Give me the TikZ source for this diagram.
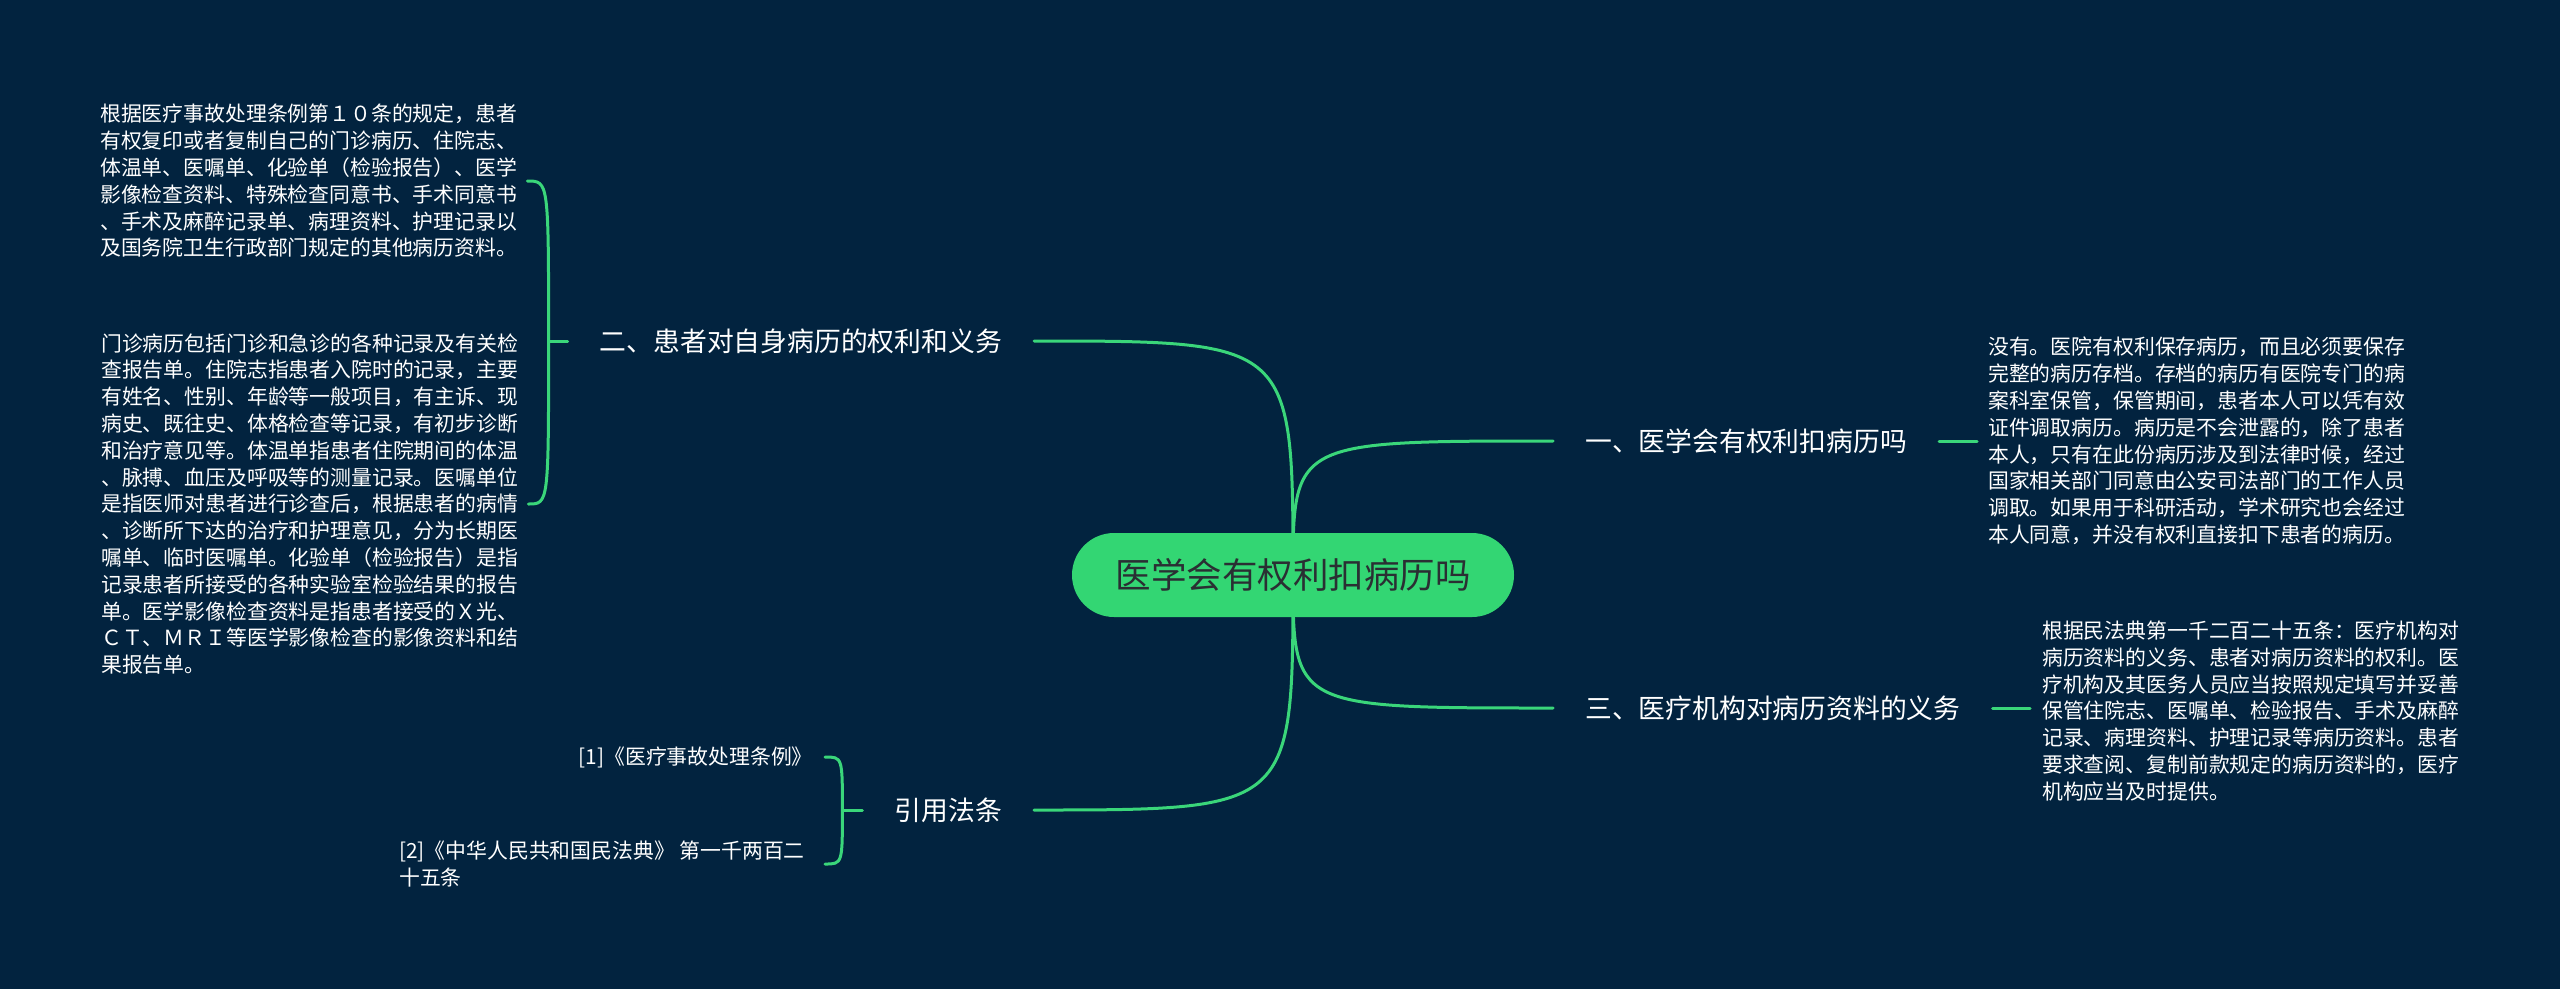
\documentclass[tikz,border=0pt]{standalone}
\usepackage{fontspec}
\setmainfont{Noto Sans CJK SC}
\usetikzlibrary{calc}
\definecolor{bgnavy}{HTML}{02233F}
\definecolor{mmgreen}{HTML}{33D673}
\definecolor{linegreen}{HTML}{3AD67A}
\definecolor{roottext}{HTML}{2A2F33}
\pgfdeclarelayer{back}
\pgfdeclarelayer{edges}
\pgfsetlayers{back,edges,main}
\begin{document}
\begin{tikzpicture}[x=1pt,y=-1pt,
  rootnode/.style={fill=mmgreen,text=roottext,rounded corners=42pt,minimum width=442pt,minimum height=84pt,inner sep=0pt,font=\fontsize{35.5}{40}\selectfont},
  branch/.style={text=white,inner xsep=32pt,inner ysep=0pt,font=\fontsize{26.8}{32}\selectfont},
  leaf/.style={text=white,align=left,inner xsep=10pt,inner ysep=0pt,font=\fontsize{20.85}{26.8}\selectfont},
  edge/.style={draw=linegreen,line width=3pt,line cap=round}]
\begin{pgfonlayer}{back}
\fill[bgnavy] (0,0) rectangle (2560,989);
\end{pgfonlayer}
\useasboundingbox (0,0) rectangle (2560,989);

\node[rootnode] (root) at (1293,575) {医学会有权利扣病历吗};

\node[branch,anchor=west] (b1) at (1553,441) {一、医学会有权利扣病历吗};
\node[branch,anchor=west] (b3) at (1553,708) {三、医疗机构对病历资料的义务};
\node[branch,anchor=east] (b2) at (1034,341) {二、患者对自身病历的权利和义务};
\node[branch,anchor=east] (b4) at (1034,810) {引用法条};

\node[leaf,anchor=west,inner xsep=11pt] (l1) at (1977,441) {没有。医院有权利保存病历，而且必须要保存\\完整的病历存档。存档的病历有医院专门的病\\案科室保管，保管期间，患者本人可以凭有效\\证件调取病历。病历是不会泄露的，除了患者\\本人，只有在此份病历涉及到法律时候，经过\\国家相关部门同意由公安司法部门的工作人员\\调取。如果用于科研活动，学术研究也会经过\\本人同意，并没有权利直接扣下患者的病历。};

\node[leaf,anchor=west,inner xsep=12pt] (l3) at (2030,711) {根据民法典第一千二百二十五条：医疗机构对\\病历资料的义务、患者对病历资料的权利。医\\疗机构及其医务人员应当按照规定填写并妥善\\保管住院志、医嘱单、检验报告、手术及麻醉\\记录、病理资料、护理记录等病历资料。患者\\要求查阅、复制前款规定的病历资料的，医疗\\机构应当及时提供。};

\node[leaf,anchor=west] (l2a) at (90,181) {根据医疗事故处理条例第１０条的规定，患者\\有权复印或者复制自己的门诊病历、住院志、\\体温单、医嘱单、化验单（检验报告）、医学\\影像检查资料、特殊检查同意书、手术同意书\\、手术及麻醉记录单、病理资料、护理记录以\\及国务院卫生行政部门规定的其他病历资料。};

\node[leaf,anchor=west] (l2b) at (91,504) {门诊病历包括门诊和急诊的各种记录及有关检\\查报告单。住院志指患者入院时的记录，主要\\有姓名、性别、年龄等一般项目，有主诉、现\\病史、既往史、体格检查等记录，有初步诊断\\和治疗意见等。体温单指患者住院期间的体温\\、脉搏、血压及呼吸等的测量记录。医嘱单位\\是指医师对患者进行诊查后，根据患者的病情\\、诊断所下达的治疗和护理意见，分为长期医\\嘱单、临时医嘱单。化验单（检验报告）是指\\记录患者所接受的各种实验室检验结果的报告\\单。医学影像检查资料是指患者接受的Ｘ光、\\ＣＴ、ＭＲＩ等医学影像检查的影像资料和结\\果报告单。};

\node[leaf,anchor=east,inner xsep=12pt] (l4a) at (825,757) {[1]《医疗事故处理条例》};
\node[leaf,anchor=east,inner xsep=20pt] (l4b) at (825,864) {[2]《中华人民共和国民法典》 第一千两百二\\十五条};

\begin{pgfonlayer}{edges}
\draw[edge] (root.center) .. controls (root.center |- b1.west) .. (b1.west);
\draw[edge] (root.center) .. controls (root.center |- b3.west) .. (b3.west);
\draw[edge] (root.center) .. controls (root.center |- b2.east) .. (b2.east);
\draw[edge] (root.center) .. controls (root.center |- b4.east) .. (b4.east);
\end{pgfonlayer}

\draw[edge] (b1.east) -- (b1.east -| l1.west);
\draw[edge] (b3.east) -- (b3.east -| l3.west);

\coordinate (v2) at ($(b2.west)+(-19,0)$);
\draw[edge] (b2.west) -- (v2);
\draw[edge] (l2a.east) .. controls (v2 |- l2a.east) .. (v2);
\draw[edge] (l2b.east) .. controls (v2 |- l2b.east) .. (v2);

\coordinate (v4) at ($(b4.west)+(-20,0)$);
\draw[edge] (b4.west) -- (v4);
\draw[edge] (l4a.east) .. controls (v4 |- l4a.east) .. (v4);
\draw[edge] (l4b.east) .. controls (v4 |- l4b.east) .. (v4);
\end{tikzpicture}
\end{document}
